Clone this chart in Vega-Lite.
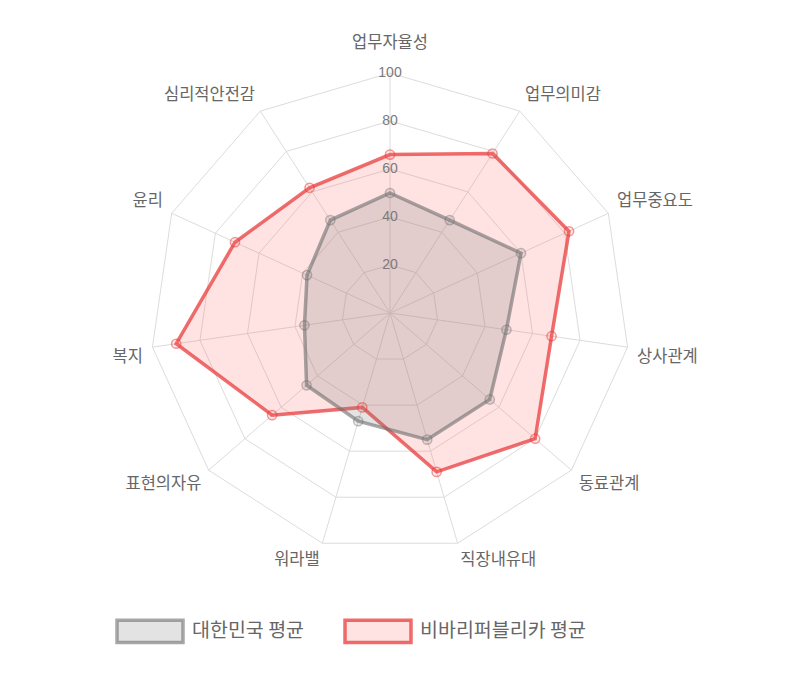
{
  "$schema": "https://vega.github.io/schema/vega-lite/v6.json",
  "description": "Radar chart: 대한민국 평균 vs 비바리퍼블리카 평균",
  "width": 800,
  "height": 677,
  "padding": 0,
  "autosize": "none",
  "background": "white",
  "datasets": {
    "scores": [
      {"axis": "업무자율성", "idx": 0, "series": "대한민국 평균", "value": 50},
      {"axis": "업무의미감", "idx": 1, "series": "대한민국 평균", "value": 46},
      {"axis": "업무중요도", "idx": 2, "series": "대한민국 평균", "value": 60},
      {"axis": "상사관계", "idx": 3, "series": "대한민국 평균", "value": 49},
      {"axis": "동료관계", "idx": 4, "series": "대한민국 평균", "value": 55},
      {"axis": "직장내유대", "idx": 5, "series": "대한민국 평균", "value": 55},
      {"axis": "워라밸", "idx": 6, "series": "대한민국 평균", "value": 47},
      {"axis": "표현의자유", "idx": 7, "series": "대한민국 평균", "value": 46},
      {"axis": "복지", "idx": 8, "series": "대한민국 평균", "value": 36},
      {"axis": "윤리", "idx": 9, "series": "대한민국 평균", "value": 38},
      {"axis": "심리적안전감", "idx": 10, "series": "대한민국 평균", "value": 46},
      {"axis": "업무자율성", "idx": 0, "series": "비바리퍼블리카 평균", "value": 66},
      {"axis": "업무의미감", "idx": 1, "series": "비바리퍼블리카 평균", "value": 79},
      {"axis": "업무중요도", "idx": 2, "series": "비바리퍼블리카 평균", "value": 82},
      {"axis": "상사관계", "idx": 3, "series": "비바리퍼블리카 평균", "value": 68},
      {"axis": "동료관계", "idx": 4, "series": "비바리퍼블리카 평균", "value": 80},
      {"axis": "직장내유대", "idx": 5, "series": "비바리퍼블리카 평균", "value": 69},
      {"axis": "워라밸", "idx": 6, "series": "비바리퍼블리카 평균", "value": 41},
      {"axis": "표현의자유", "idx": 7, "series": "비바리퍼블리카 평균", "value": 65},
      {"axis": "복지", "idx": 8, "series": "비바리퍼블리카 평균", "value": 90},
      {"axis": "윤리", "idx": 9, "series": "비바리퍼블리카 평균", "value": 71},
      {"axis": "심리적안전감", "idx": 10, "series": "비바리퍼블리카 평균", "value": 62}
    ],
    "axes": [
      {"axis": "업무자율성", "idx": 0, "levels": [20, 40, 60, 80, 100]},
      {"axis": "업무의미감", "idx": 1, "levels": [20, 40, 60, 80, 100]},
      {"axis": "업무중요도", "idx": 2, "levels": [20, 40, 60, 80, 100]},
      {"axis": "상사관계", "idx": 3, "levels": [20, 40, 60, 80, 100]},
      {"axis": "동료관계", "idx": 4, "levels": [20, 40, 60, 80, 100]},
      {"axis": "직장내유대", "idx": 5, "levels": [20, 40, 60, 80, 100]},
      {"axis": "워라밸", "idx": 6, "levels": [20, 40, 60, 80, 100]},
      {"axis": "표현의자유", "idx": 7, "levels": [20, 40, 60, 80, 100]},
      {"axis": "복지", "idx": 8, "levels": [20, 40, 60, 80, 100]},
      {"axis": "윤리", "idx": 9, "levels": [20, 40, 60, 80, 100]},
      {"axis": "심리적안전감", "idx": 10, "levels": [20, 40, 60, 80, 100]}
    ]
  },
  "encoding": {
    "x": {
      "field": "px",
      "type": "quantitative",
      "scale": {"domain": [-162.5, 170.83], "nice": false, "zero": false},
      "axis": null
    },
    "y": {
      "field": "py",
      "type": "quantitative",
      "scale": {"domain": [-151.67, 130.42], "nice": false, "zero": false},
      "axis": null
    }
  },
  "layer": [
    {
      "data": {"name": "axes"},
      "transform": [
        {"flatten": ["levels"], "as": ["level"]},
        {"calculate": "datum.idx * 2 * PI / 11", "as": "theta"},
        {"calculate": "datum.level * sin(datum.theta)", "as": "px"},
        {"calculate": "datum.level * cos(datum.theta)", "as": "py"}
      ],
      "mark": {"type": "line", "interpolate": "linear-closed", "stroke": "#dcdcdc", "strokeWidth": 1},
      "encoding": {
        "detail": {"field": "level", "type": "nominal"},
        "order": {"field": "idx", "type": "quantitative"}
      }
    },
    {
      "data": {"name": "axes"},
      "transform": [
        {"calculate": "datum.idx * 2 * PI / 11", "as": "theta"},
        {"calculate": "100 * sin(datum.theta)", "as": "px"},
        {"calculate": "100 * cos(datum.theta)", "as": "py"}
      ],
      "mark": {"type": "rule", "stroke": "#dcdcdc", "strokeWidth": 1},
      "encoding": {
        "x2": {"datum": 0},
        "y2": {"datum": 0}
      }
    },
    {
      "data": {"name": "scores"},
      "transform": [
        {"filter": "datum.series === '비바리퍼블리카 평균'"},
        {"calculate": "datum.idx * 2 * PI / 11", "as": "theta"},
        {"calculate": "datum.value * sin(datum.theta)", "as": "px"},
        {"calculate": "datum.value * cos(datum.theta)", "as": "py"}
      ],
      "mark": {"type": "line", "interpolate": "linear-closed", "strokeWidth": 3.5},
      "encoding": {
        "order": {"field": "idx", "type": "quantitative"},
        "stroke": {
          "field": "series",
          "type": "nominal",
          "scale": {
            "domain": ["대한민국 평균", "비바리퍼블리카 평균"],
            "range": ["rgba(110,110,110,0.6)", "rgba(232,60,60,0.75)"]
          },
          "legend": {"title": null}
        },
        "fill": {
          "field": "series",
          "type": "nominal",
          "scale": {
            "domain": ["대한민국 평균", "비바리퍼블리카 평균"],
            "range": ["rgba(128,128,128,0.22)", "rgba(255,99,99,0.19)"]
          },
          "legend": {"title": null}
        }
      }
    },
    {
      "data": {"name": "scores"},
      "transform": [
        {"filter": "datum.series === '대한민국 평균'"},
        {"calculate": "datum.idx * 2 * PI / 11", "as": "theta"},
        {"calculate": "datum.value * sin(datum.theta)", "as": "px"},
        {"calculate": "datum.value * cos(datum.theta)", "as": "py"}
      ],
      "mark": {"type": "line", "interpolate": "linear-closed", "strokeWidth": 3.5},
      "encoding": {
        "order": {"field": "idx", "type": "quantitative"},
        "stroke": {"field": "series", "type": "nominal", "legend": {"title": null}},
        "fill": {"field": "series", "type": "nominal", "legend": {"title": null}}
      }
    },
    {
      "data": {"name": "scores"},
      "transform": [
        {"calculate": "datum.idx * 2 * PI / 11", "as": "theta"},
        {"calculate": "datum.value * sin(datum.theta)", "as": "px"},
        {"calculate": "datum.value * cos(datum.theta)", "as": "py"}
      ],
      "mark": {"type": "point", "shape": "circle", "filled": true, "size": 85, "strokeWidth": 1.5},
      "encoding": {
        "stroke": {"field": "series", "type": "nominal", "legend": null},
        "fill": {"field": "series", "type": "nominal", "legend": null}
      }
    },
    {
      "data": {"name": "axes"},
      "transform": [
        {"flatten": ["levels"], "as": ["level"]},
        {"filter": "datum.idx === 0"},
        {"calculate": "datum.level * sin(datum.idx)", "as": "px"},
        {"calculate": "datum.level", "as": "py"},
        {"calculate": "format(datum.level, 'd')", "as": "tick"}
      ],
      "mark": {"type": "text", "align": "center", "baseline": "middle", "fontSize": 14, "fill": "#7a7a7a", "font": "Liberation Sans"},
      "encoding": {"text": {"field": "tick"}}
    },
    {
      "data": {"name": "axes"},
      "transform": [
        {"calculate": "datum.idx * 2 * PI / 11", "as": "theta"},
        {"calculate": "104 * sin(datum.theta)", "as": "px"},
        {"calculate": "104 * cos(datum.theta)", "as": "py"},
        {"filter": "datum.idx === 0"}
      ],
      "mark": {"type": "text", "align": "center", "baseline": "bottom", "dy": -12, "fontSize": 16.5, "fill": "#666666", "font": "Noto Sans CJK KR"},
      "encoding": {"text": {"field": "axis"}}
    },
    {
      "data": {"name": "axes"},
      "transform": [
        {"calculate": "datum.idx * 2 * PI / 11", "as": "theta"},
        {"calculate": "104 * sin(datum.theta)", "as": "px"},
        {"calculate": "104 * cos(datum.theta)", "as": "py"},
        {"filter": "sin(datum.theta) > 0.05 && cos(datum.theta) > 0.05"}
      ],
      "mark": {"type": "text", "align": "left", "baseline": "bottom", "fontSize": 16.5, "fill": "#666666", "font": "Noto Sans CJK KR"},
      "encoding": {"text": {"field": "axis"}}
    },
    {
      "data": {"name": "axes"},
      "transform": [
        {"calculate": "datum.idx * 2 * PI / 11", "as": "theta"},
        {"calculate": "104 * sin(datum.theta)", "as": "px"},
        {"calculate": "104 * cos(datum.theta)", "as": "py"},
        {"filter": "sin(datum.theta) > 0.05 && cos(datum.theta) <= 0.05"}
      ],
      "mark": {"type": "text", "align": "left", "baseline": "top", "fontSize": 16.5, "fill": "#666666", "font": "Noto Sans CJK KR"},
      "encoding": {"text": {"field": "axis"}}
    },
    {
      "data": {"name": "axes"},
      "transform": [
        {"calculate": "datum.idx * 2 * PI / 11", "as": "theta"},
        {"calculate": "104 * sin(datum.theta)", "as": "px"},
        {"calculate": "104 * cos(datum.theta)", "as": "py"},
        {"filter": "sin(datum.theta) < -0.05 && cos(datum.theta) <= 0.05"}
      ],
      "mark": {"type": "text", "align": "right", "baseline": "top", "fontSize": 16.5, "fill": "#666666", "font": "Noto Sans CJK KR"},
      "encoding": {"text": {"field": "axis"}}
    },
    {
      "data": {"name": "axes"},
      "transform": [
        {"calculate": "datum.idx * 2 * PI / 11", "as": "theta"},
        {"calculate": "104 * sin(datum.theta)", "as": "px"},
        {"calculate": "104 * cos(datum.theta)", "as": "py"},
        {"filter": "sin(datum.theta) < -0.05 && cos(datum.theta) > 0.05"}
      ],
      "mark": {"type": "text", "align": "right", "baseline": "bottom", "fontSize": 16.5, "fill": "#666666", "font": "Noto Sans CJK KR"},
      "encoding": {"text": {"field": "axis"}}
    }
  ],
  "config": {
    "view": {"stroke": null},
    "legend": {
      "orient": "none",
      "legendX": 115,
      "legendY": 596,
      "direction": "horizontal",
      "symbolType": "M-1,-0.34H1V0.34H-1Z",
      "symbolSize": 4356,
      "symbolStrokeWidth": 3.5,
      "labelFontSize": 19.5,
      "labelLimit": 400,
      "labelColor": "#666666",
      "labelFont": "Noto Sans CJK KR",
      "labelOffset": 7,
      "columnPadding": 33
    }
  }
}
